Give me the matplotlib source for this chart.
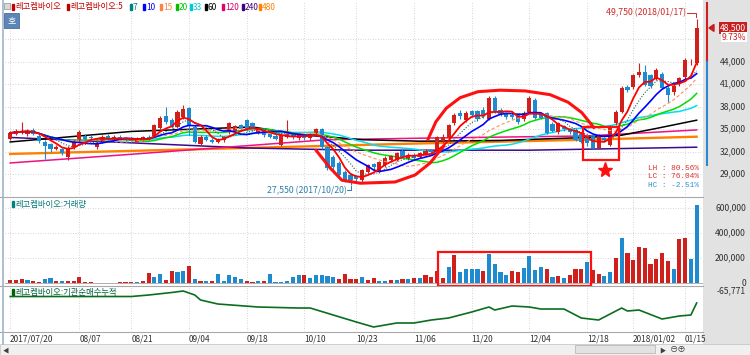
import matplotlib
matplotlib.use("Agg")
import matplotlib.pyplot as plt
from matplotlib.patches import Rectangle, Polygon
from matplotlib.lines import Line2D
import pandas as pd

plt.rcParams['font.family'] = ['Noto Sans CJK KR', 'DejaVu Sans']

# ---------------- data ----------------
tick_idx = [0, 12, 21, 31, 41, 51, 60, 70, 80, 90, 100, 108, 117]
tick_labels = ['2017/07/20', '08/07', '08/21', '09/04', '09/18', '10/10', '10/23',
               '11/06', '11/20', '12/04', '12/18', '2018/01/02', '01/15']

opens = [33700, 34400, 34500, 34300, 34900, 34100, 33300, 33000, 32400, 32300,
         31300, 32600, 33600, 34100, 34000, 32600, 33400, 34100, 33700, 34000,
         33800, 33700, 33300, 33600, 34000, 34100, 35100, 36700, 36200, 35300,
         36600, 37800, 35300, 33000, 34000, 33600, 33300, 33500, 34600, 34800,
         35500, 36200, 35800, 34600, 34900, 34300, 34100, 32900, 34000, 34300,
         33800, 34200, 33800, 34500, 35000, 32600, 31300, 30500, 29300, 28900,
         28700, 28200, 29300, 30300, 29300, 30200, 30900, 30900, 32100, 31100,
         31600, 31300, 31700, 32200, 32200, 33400, 33800, 35800, 37200, 36200,
         37400, 37400, 37600, 36400, 39200, 37600, 37000, 36900, 37000, 36300,
         37300, 38900, 37000, 37100, 35700, 34600, 35400, 35000, 34900, 34400,
         33900, 34200, 32500, 33800, 32900, 35800, 37300, 40600, 40600, 42200,
         42600, 42200, 41800, 42400, 40500, 39900, 41000, 41900, 43900, 43800]
highs = [34700, 35000, 36000, 35000, 35100, 34300, 33600, 33200, 32900, 32500,
         32700, 33500, 34900, 34400, 34200, 33500, 34200, 34300, 34200, 34200,
         34000, 33900, 34000, 34100, 34200, 35700, 36800, 38000, 36500, 37500,
         38200, 37900, 35500, 34200, 34200, 33800, 33800, 34100, 36000, 35600,
         35700, 36400, 36000, 35200, 35100, 34500, 34300, 34400, 36200, 34500,
         34400, 34400, 34500, 35200, 35100, 32800, 31600, 30800, 29600, 29100,
         28900, 29700, 30400, 30500, 30800, 31400, 31600, 32000, 32300, 31800,
         31800, 32000, 32300, 32400, 34100, 34300, 35700, 37100, 37500, 37400,
         37600, 37600, 37900, 39400, 39400, 37800, 37200, 37100, 37200, 37400,
         39400, 39100, 37200, 37300, 35900, 36000, 35600, 35200, 35100, 34600,
         34100, 34400, 34400, 34000, 35500, 37500, 40700, 40900, 42400, 43800,
         43500, 42400, 43100, 42600, 40700, 41000, 42000, 44500, 44300, 49750]
lows = [33500, 34200, 34300, 34100, 34200, 33200, 31000, 32000, 32200, 31600,
        30900, 32400, 33400, 33500, 33500, 32400, 33200, 33600, 33500, 33500,
        33300, 33200, 33100, 33400, 33500, 33900, 35000, 35700, 35100, 35200,
        36400, 34200, 33100, 32800, 33400, 33100, 33100, 33300, 34400, 34600,
        34800, 34700, 34700, 34400, 34000, 33800, 33500, 32700, 33800, 33700,
        33600, 33600, 33600, 34300, 32400, 29600, 29600, 28700, 28000, 27550,
        28000, 28000, 29100, 29600, 29100, 30000, 30700, 30700, 31100, 30900,
        31000, 31100, 31500, 31700, 32000, 33200, 33600, 35600, 36400, 36000,
        36600, 36100, 36500, 36200, 37100, 36800, 36400, 36400, 35700, 36100,
        37100, 36300, 36300, 34300, 34600, 34400, 34800, 34400, 33400, 33100,
        32800, 32300, 32300, 33300, 32700, 35600, 37100, 39900, 40400, 41900,
        40700, 40500, 41600, 40300, 38600, 39500, 40800, 41700, 43500, 43600]
closes = [34500, 34700, 34800, 34800, 34400, 33400, 32700, 32300, 32600, 31800,
          32500, 33300, 34600, 33700, 33800, 33200, 34000, 33800, 34000, 33700,
          33500, 33400, 33800, 33900, 33700, 35500, 36500, 35900, 35300, 37300,
          37700, 35500, 33300, 34000, 33600, 33300, 33600, 33900, 35800, 35400,
          35000, 34900, 34900, 35000, 34200, 34000, 33700, 34200, 34300, 33900,
          34200, 33800, 34300, 35000, 32600, 29800, 30000, 28900, 28200, 28200,
          28300, 29500, 30200, 29900, 30600, 31200, 31400, 31800, 31300, 31600,
          31200, 31800, 32100, 31900, 33900, 34000, 35500, 36900, 36800, 37200,
          36900, 36300, 36800, 39200, 37300, 37000, 36600, 36600, 35900, 37200,
          39100, 36500, 36500, 34500, 34800, 35800, 35000, 34600, 33600, 33300,
          33100, 32500, 34200, 33500, 35300, 37300, 40500, 40200, 42200, 42600,
          40900, 40800, 42900, 40500, 39600, 40800, 41800, 44200, 44000, 48500]

# volume in shares, 'r' = red bar, 'b' = blue bar
volume = [21000, 21000, 29000, 24000, 15000, 12000, 29000, 43000, 20000, 20000,
          15000, 20000, 48000, 5000, 5000, 4000, 4000, 4000, 4000, 5000,
          8000, 8000, 10000, 15000, 80000, 48000, 75000, 25000, 96000, 88000,
          96000, 136000, 32000, 20000, 20000, 20000, 75000, 20000, 61000, 48000,
          30000, 20000, 12000, 15000, 15000, 69000, 8000, 8000, 15000, 48000,
          61000, 64000, 40000, 67000, 67000, 55000, 50000, 30000, 72000, 35000,
          30000, 48000, 27000, 38000, 20000, 20000, 25000, 25000, 30000, 30000,
          38000, 40000, 61000, 50000, 95000, 37000, 130000, 225000, 87000, 110000,
          110000, 112000, 95000, 230000, 150000, 85000, 67000, 95000, 90000, 117000,
          217000, 105000, 125000, 112000, 50000, 55000, 37000, 67000, 112000, 110000,
          167000, 105000, 75000, 57000, 90000, 200000, 362000, 237000, 187000, 287000,
          280000, 155000, 195000, 237000, 175000, 110000, 350000, 362000, 195000, 621000]
vol_color = list("rrrbrrbbrbrrrrrbbbbrrrbr" "rbbrrbbrbrbrbbbbbrrbrbbbbbbrbbbb"
                 "brrrrbrrbbrbrbr" "brrrrbrbbbbrbbbbrrbbbbrbrbrrrbrrbbrbrrrrr")

# long moving averages (trading-day index, price)
ma60_x = [0, 21, 42, 50, 61, 71, 85, 100, 106, 112, 119]
ma60_y = [33300, 34700, 35300, 34300, 33600, 33400, 33500, 33900, 34200, 35100, 36200]
ma120_x = [0, 20, 41, 55, 71, 100, 119]
ma120_y = [30500, 31600, 32800, 33600, 33800, 34100, 34900]
ma240_x = [0, 41, 60, 90, 119]
ma240_y = [33900, 32500, 32200, 32200, 32600]
ma480_x = [0, 41, 71, 100, 119]
ma480_y = [31700, 32500, 33100, 33600, 34000]

# institutional net buying, cumulative
acc_x = [0, 11, 21, 24, 28, 30, 32, 33, 36, 43, 50, 52, 56, 60, 63, 67, 70, 73, 76,
         80, 83, 84, 87, 90, 92, 96, 99, 102, 106, 107, 109, 113, 116, 118, 119]
acc_y = [-33300, -33300, -33300, -25800, -13300, -5800, -25800, -50800, -70800,
         -85800, -90800, -90800, -125800, -160800, -185800, -165800, -165800,
         -150800, -140800, -110800, -85800, -100800, -80800, -85800, -95800,
         -95800, -140800, -150800, -90800, -105800, -100800, -145800, -130800,
         -125800, -65771]

# ---------------- figure ----------------
W, H = 750, 355
fig = plt.figure(figsize=(7.5, 3.55), dpi=100)
fig.patch.set_facecolor('white')


def fx(x):
    return x / W


def fy(y):
    return 1 - y / H


L, R = 5, 703
ax_p = fig.add_axes([fx(L), fy(196), (R - L) / W, 194 / H])
ax_v = fig.add_axes([fx(L), fy(285), (R - L) / W, 88 / H])
ax_a = fig.add_axes([fx(L), fy(331), (R - L) / W, 45 / H])

n = len(closes)
xs = list(range(n))
for ax in (ax_p, ax_v, ax_a):
    ax.set_xlim(-0.9, 120.1)
    ax.set_facecolor('white')
    for s in ax.spines.values():
        s.set_visible(False)
    ax.set_xticks([])
    ax.set_yticks([])
    for t in tick_idx:
        ax.axvline(t, color='#c8c8c8', lw=0.6, ls=(0, (1, 2)), zorder=0)

ax_p.set_ylim(26095, 51955)
ax_v.set_ylim(-16000, 688000)
ax_a.set_ylim(-205771, 19229)

grid_kw = dict(color='#c8c8c8', lw=0.6, ls=(0, (1, 2)), zorder=0)
for p in range(29000, 48000, 3000):
    ax_p.axhline(p, **grid_kw)
for v in (200000, 400000, 600000):
    ax_v.axhline(v, **grid_kw)
ax_v.axhline(0, color='#b0b0b0', lw=0.7, zorder=1)

RED, BLUE = '#d0201c', '#1e8bd0'

# candles
for i in xs:
    o, c = opens[i], closes[i]
    col = RED if c >= o else BLUE
    ax_p.vlines(i, lows[i], highs[i], color=col, lw=0.8, zorder=3)
    body = max(abs(c - o), 60)
    ax_p.bar(i, body, bottom=min(o, c), width=0.72, color=col, zorder=3, lw=0)

# moving averages
cs = pd.Series(closes, dtype=float)
ma = {k: cs.rolling(k, min_periods=1).mean() for k in (5, 7, 10, 15, 20, 33)}
ax_p.plot(ma480_x, ma480_y, color='#ff8000', lw=1.7, zorder=2)
ax_p.plot(ma240_x, ma240_y, color='#3c0a8c', lw=1.1, zorder=2)
ax_p.plot(ma120_x, ma120_y, color='#f0107f', lw=1.1, zorder=2)
ax_p.plot(ma60_x, ma60_y, color='#000000', lw=1.1, zorder=2)
ax_p.plot(xs, ma[33], color='#00e0ee', lw=1.1, zorder=2)
ax_p.plot(xs, ma[20], color='#00dd00', lw=1.1, zorder=2)
ax_p.plot(xs, ma[15], color='#ff9060', lw=0.8, ls=(0, (3, 2)), zorder=4)
ax_p.plot(xs, ma[10], color='#0000ff', lw=1.2, zorder=4)
ax_p.plot(xs, ma[7], color='#206060', lw=0.8, ls=(0, (1, 1.5)), zorder=4)
ax_p.plot(xs, ma[5], color='#ff0000', lw=1.3, zorder=4)

# hand drawn red marks
ax_p.plot([53.0, 55.5, 57.5, 60.7, 66.7, 70.2, 72.8, 75.2],
          [32200, 29800, 28200, 27800, 27960, 28900, 30500, 32800],
          color='#ff1010', lw=2.2, zorder=6, solid_capstyle='round')
ax_p.plot([72.4, 73.8, 75.6, 78.0, 81.1, 84.9, 89.3, 93.6, 96.7, 99.1, 101.2],
          [33600, 36000, 37800, 39200, 40000, 40200, 40100, 39600, 38600, 37200, 35200],
          color='#ff1010', lw=2.2, zorder=6, solid_capstyle='round')
ax_p.add_patch(Rectangle((99.3, 30900), 6.2, 4400, fill=False, ec='#ff1010', lw=1.6, zorder=6))
ax_p.plot([103.1], [29600], marker='*', ms=11, color='#ff1010', zorder=6)
ax_v.add_patch(Rectangle((74.2, -24000), 26.5, 272000, fill=False, ec='#ff1010', lw=1.6,
                         zorder=6, clip_on=False))

# high / low notes
ax_p.text(117.2, 50550, '49,750 (2018/01/17)', color='#d02828', fontsize=6.3,
          ha='right', va='center', zorder=7)
ax_p.plot([117.4, 118.9, 118.9], [50550, 50550, 49900], color='#d02828', lw=0.7, zorder=7)
ax_p.text(58.3, 26850, '27,550 (2017/10/20)', color='#2a7fa8', fontsize=6.3,
          ha='right', va='center', zorder=7)
ax_p.plot([58.4, 59.0, 59.0], [26850, 26850, 27450], color='#2a7fa8', lw=0.7, zorder=7)
for k, (txt, col) in enumerate([('LH : 80.56%', '#e03030'), ('LC : 76.04%', '#e03030'),
                                ('HC : -2.51%', '#3090d0')]):
    ax_p.text(119.3, 29700 - k * 1070, txt, color=col, fontsize=5.6, ha='right',
              va='center', family=['Liberation Mono', 'DejaVu Sans Mono'], zorder=7)

# volume bars
vcols = [RED if c == 'r' else BLUE for c in vol_color]
ax_v.bar(xs, volume, width=0.72, color=vcols, lw=0, zorder=3)

# accumulation line
ax_a.plot(acc_x, acc_y, color='#0a6e1e', lw=1.2, zorder=3)

# panel separators
for y in (196.5, 285.5, 331.5):
    fig.add_artist(Line2D([fx(0), fx(R)], [fy(y), fy(y)], color='#a8a8a8', lw=0.8))
fig.add_artist(Line2D([fx(3), fx(3)], [fy(0), fy(344)], color='#9fb4c8', lw=1.2))

# right axis column
fig.add_artist(Rectangle((fx(R), fy(344)), (W - R) / W, 344 / H, transform=fig.transFigure,
                         color='#e2e2e2', zorder=0))
fig.add_artist(Line2D([fx(707), fx(707)], [fy(3), fy(62)], color='#d02020', lw=1.5))
fig.add_artist(Line2D([fx(707), fx(707)], [fy(62), fy(165)], color='#2a8ad0', lw=1.5))


def price_y(p):
    return 1 - (196 - 194 * (p - 26095) / (51955 - 26095)) / H


for p in range(29000, 45000, 3000):
    fig.text(fx(746), price_y(p), f'{p:,}', fontsize=6.2, color='#303030',
             ha='right', va='center')
fig.text(fx(746), price_y(48500), '48,500', fontsize=6.2, color='white', ha='right',
         va='center', bbox=dict(boxstyle='square,pad=0.15', fc='#c81e1e', ec='none'))
fig.text(fx(746), fy(37), '9.73%', fontsize=6.2, color='#d02020', ha='right', va='center',
         bbox=dict(boxstyle='square,pad=0.1', fc='white', ec='none'))
fig.add_artist(Polygon([[fx(709), price_y(48500)], [fx(714), price_y(48500) + 3.5 / H],
                        [fx(714), price_y(48500) - 3.5 / H]], closed=True,
                       transform=fig.transFigure, color='#c81e1e'))
for v, y in ((600000, 208), (400000, 233), (200000, 258), (0, 283)):
    fig.text(fx(746), fy(y), f'{v:,}', fontsize=6.2, color='#303030', ha='right', va='center')
fig.text(fx(746), fy(291), '-65,771', fontsize=6.2, color='#303030', ha='right', va='center')

# date labels
for t, lab in zip(tick_idx, tick_labels):
    xpix = L + (t + 0.9) / 121.0 * (R - L)
    fig.text(fx(xpix), fy(339), lab, fontsize=6.0, color='#303030', ha='left', va='center')

# legends
legend = [(15, '레고켐바이오', '#c00000'), (70, '레고켐바이오:5', '#c00000'), (133, '7', '#008080'),
          (146, '10', '#0000ff'), (163, '15', '#ff8040'), (179, '20', '#00c000'),
          (193, '33', '#00c8d8'), (208, '60', '#000000'), (225, '120', '#e0006e'),
          (245, '240', '#400080'), (262, '480', '#ff8000')]
for x, lab, col in legend:
    fig.add_artist(Rectangle((fx(x - 3), fy(10)), 1.6 / W, 6 / H, transform=fig.transFigure,
                             color=col))
    fig.text(fx(x), fy(7), lab, fontsize=6.0, color=col, ha='left', va='center')
fig.add_artist(Rectangle((fx(4), fy(9)), 6 / W, 6 / H, transform=fig.transFigure,
                         fc='#d8d8d8', ec='#909090', lw=0.5))
fig.add_artist(Rectangle((fx(4), fy(28)), 15 / W, 15 / H, transform=fig.transFigure,
                         fc='#5a86b8', ec='#3a5a88', lw=0.5))
fig.text(fx(11.5), fy(20.5), '호', fontsize=6.5, color='white', ha='center', va='center')

fig.add_artist(Rectangle((fx(12), fy(207)), 1.6 / W, 6 / H, transform=fig.transFigure,
                         color='#008080'))
fig.text(fx(15), fy(204), '레고켐바이오:거래량', fontsize=6.0, color='#007878', ha='left',
         va='center')
fig.add_artist(Rectangle((fx(12), fy(295)), 1.6 / W, 6 / H, transform=fig.transFigure,
                         color='#006400'))
fig.text(fx(15), fy(292), '레고켐바이오:기관순매수누적', fontsize=6.0, color='#006040',
         ha='left', va='center')

# bottom scroll bar
fig.add_artist(Rectangle((0, 0), 1, 11 / H, transform=fig.transFigure, fc='#f0f0f0',
                         ec='#c0c0c0', lw=0.5))
fig.add_artist(Rectangle((fx(575), fy(353)), 80 / W, 8 / H, transform=fig.transFigure,
                         fc='#e2e2e2', ec='#b0b0b0', lw=0.5))
fig.text(fx(3), fy(350), '◀', fontsize=4.5, color='#404040', va='center')
fig.text(fx(659), fy(350), '▶', fontsize=4.5, color='#404040', va='center')
fig.text(fx(670), fy(350), '⊖⊕', fontsize=6, color='#404040', va='center')

fig.savefig('out.png', dpi=100)
